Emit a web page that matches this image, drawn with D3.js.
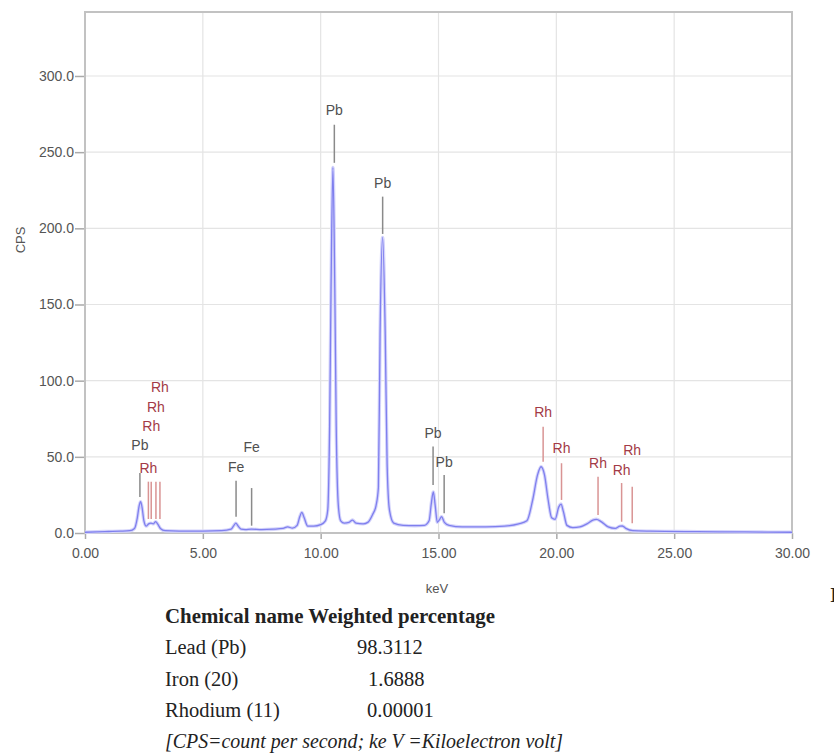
<!DOCTYPE html>
<html>
<head>
<meta charset="utf-8">
<script src="https://cdn.jsdelivr.net/npm/d3@7"></script>
<style>
  body { margin: 0; background: #fff; }
  svg { display: block; }
  .tick text { font-family: "Liberation Sans", Arial, sans-serif; font-size: 14px; fill: #555; }
  .serif { font-family: "Liberation Serif", "DejaVu Serif", serif; fill: #222; }
</style>
</head>
<body>
<svg width="834" height="753"></svg>
<script>
// spectrum: [keV, CPS]
var spectrum = [
  [0.0, 0.5], [0.5, 0.8], [1.0, 1.0], [1.5, 1.2], [1.9, 1.5], [2.1, 3],
  [2.22, 10], [2.3, 18], [2.36, 20.5], [2.42, 17], [2.5, 8], [2.6, 4.5],
  [2.7, 6], [2.8, 6.5], [2.9, 6], [3.0, 7.5], [3.08, 6], [3.2, 3], [3.4, 1.5],
  [4.0, 1.2], [5.0, 1.2], [5.8, 1.5], [6.2, 2.5], [6.32, 5], [6.4, 6.5],
  [6.5, 4.5], [6.62, 2.5], [6.8, 2.2], [7.06, 2.5], [7.5, 2.2], [8.0, 2.5],
  [8.4, 3], [8.6, 4], [8.8, 3.2], [9.0, 5], [9.12, 11], [9.2, 13.5], [9.3, 10],
  [9.45, 4.5], [9.7, 4.5], [10.0, 5.5], [10.2, 8], [10.3, 15], [10.38, 70],
  [10.44, 160], [10.52, 240], [10.6, 160], [10.66, 70], [10.75, 18], [10.85, 8],
  [11.0, 6.5], [11.2, 7], [11.35, 8.5], [11.5, 6.5], [11.8, 6], [12.0, 7],
  [12.2, 12], [12.35, 18], [12.45, 30], [12.52, 130], [12.63, 194], [12.74, 130],
  [12.82, 45], [12.92, 15], [13.1, 6.5], [13.5, 5], [14.0, 4.8], [14.4, 5],
  [14.6, 8], [14.7, 20], [14.78, 27], [14.86, 18], [14.95, 7], [15.05, 9],
  [15.13, 10.7], [15.25, 7], [15.45, 5], [16.0, 4], [17.0, 4], [17.8, 4.5],
  [18.4, 6], [18.75, 8], [19.0, 22], [19.2, 38], [19.35, 43.5], [19.5, 38],
  [19.65, 22], [19.8, 10], [19.95, 9], [20.1, 17], [20.2, 19], [20.3, 14],
  [20.45, 5], [20.7, 3.5], [21.0, 4], [21.3, 6], [21.55, 8.5], [21.7, 9],
  [21.9, 7.5], [22.2, 4], [22.5, 3], [22.7, 4.5], [22.8, 4.6], [22.95, 3],
  [23.25, 1.5], [24.0, 1.2], [26.0, 0.9], [28.0, 0.7], [30.0, 0.5]
];

// element markers: [element, keV, line top CPS, line bottom CPS, label CPS]
var markers = [
  ['Pb', 2.33, 39.4, 23.6, 57.8],
  ['Rh', 2.69, 33.7, 9.2, 42.7],
  ['Rh', 2.81, 33.7, 9.2, 70.5],
  ['Rh', 3.01, 33.7, 9.2, 82.9],
  ['Rh', 3.18, 33.7, 9.2, 96.0],
  ['Fe', 6.41, 34.3, 10.7, 43.5],
  ['Fe', 7.07, 29.5, 4.8, 56.3],
  ['Pb', 10.58, 268, 243, 277.7],
  ['Pb', 12.63, 220.8, 196.3, 230],
  ['Pb', 14.77, 56.7, 31.5, 65.5],
  ['Pb', 15.24, 38, 12.9, 46.8],
  ['Rh', 19.44, 69.8, 46.8, 79.6],
  ['Rh', 20.22, 45.8, 21.7, 55.8],
  ['Rh', 21.77, 37, 11.8, 46.2],
  ['Rh', 22.77, 32.8, 7.4, 41.4],
  ['Rh', 23.22, 30.4, 6.4, 54.5]
];

var xTicks = [0, 5, 10, 15, 20, 25, 30];
var yTicks = [0, 50, 100, 150, 200, 250, 300];

var tableHeader = 'Chemical name Weighted percentage';
var tableNames = ['Lead (Pb)', 'Iron (20)', 'Rhodium (11)'];
var tableValues = ['98.3112', '1.6888', '0.00001'];
var footnote = '[CPS=count per second; ke V =Kiloelectron volt]';

var svg = d3.select('svg');
var plotL = 85, plotR = 792, plotT = 12, plotB = 533;

var x = d3.scaleLinear().domain([0, 30]).range([plotL, plotR]);
var y = d3.scaleLinear().domain([0, 342]).range([plotB, plotT]);

// grid
svg.append('g')
  .selectAll('line.vg')
  .data(xTicks.slice(1, -1))
  .enter().append('line')
    .attr('x1', function(d) { return x(d); })
    .attr('x2', function(d) { return x(d); })
    .attr('y1', plotT).attr('y2', plotB)
    .attr('stroke', '#e4e4e4').attr('stroke-width', 1.2);

svg.append('g')
  .selectAll('line.hg')
  .data(yTicks.slice(1))
  .enter().append('line')
    .attr('x1', plotL).attr('x2', plotR)
    .attr('y1', function(d) { return y(d); })
    .attr('y2', function(d) { return y(d); })
    .attr('stroke', '#e4e4e4').attr('stroke-width', 1.2);

// axes
var xAxis = svg.append('g')
  .attr('transform', 'translate(0,' + plotB + ')')
  .call(d3.axisBottom(x).tickValues(xTicks).tickFormat(d3.format('.2f')).tickSize(6).tickPadding(9));
var yAxis = svg.append('g')
  .attr('transform', 'translate(' + plotL + ',0)')
  .call(d3.axisLeft(y).tickValues(yTicks).tickFormat(d3.format('.1f')).tickSize(10).tickPadding(1));
[xAxis, yAxis].forEach(function(a) {
  a.select('.domain').remove();
  a.selectAll('.tick line').attr('stroke', '#aaa').attr('stroke-width', 1.5);
});

// frame
svg.append('rect')
  .attr('x', plotL).attr('y', plotT)
  .attr('width', plotR - plotL).attr('height', plotB - plotT)
  .attr('fill', 'none').attr('stroke', '#c2c2c2').attr('stroke-width', 2);

// spectrum
var line = d3.line()
  .x(function(d) { return x(d[0]); })
  .y(function(d) { return y(d[1]); })
  .curve(d3.curveMonotoneX);

svg.append('path')
  .datum(spectrum)
  .attr('d', line)
  .attr('fill', 'none')
  .attr('stroke', '#d4d4fb')
  .attr('stroke-width', 3.4);
svg.append('path')
  .datum(spectrum)
  .attr('d', line)
  .attr('fill', 'none')
  .attr('stroke', '#7f7fee')
  .attr('stroke-width', 1.3);

// markers
var lineColor = { Pb: '#8a8a8a', Fe: '#8a8a8a', Rh: '#d99494' };
var textColor = { Pb: '#505050', Fe: '#505050', Rh: '#a33a46' };

var mk = svg.append('g').selectAll('g.marker')
  .data(markers)
  .enter().append('g');
mk.append('line')
  .attr('x1', function(d) { return x(d[1]); })
  .attr('x2', function(d) { return x(d[1]); })
  .attr('y1', function(d) { return y(d[2]); })
  .attr('y2', function(d) { return y(d[3]); })
  .attr('stroke', function(d) { return lineColor[d[0]]; })
  .attr('stroke-width', 1.5);
mk.append('text')
  .attr('x', function(d) { return x(d[1]); })
  .attr('y', function(d) { return y(d[4]); })
  .attr('dy', '0.35em')
  .attr('text-anchor', 'middle')
  .attr('font-family', '"Liberation Sans", Arial, sans-serif')
  .attr('font-size', 14)
  .attr('fill', function(d) { return textColor[d[0]]; })
  .text(function(d) { return d[0]; });

// axis titles
svg.append('text')
  .attr('transform', 'translate(25,240) rotate(-90)')
  .attr('text-anchor', 'middle')
  .attr('font-family', '"Liberation Sans", Arial, sans-serif')
  .attr('font-size', 13).attr('fill', '#555')
  .text('CPS');
svg.append('text')
  .attr('x', 437).attr('y', 593)
  .attr('text-anchor', 'middle')
  .attr('font-family', '"Liberation Sans", Arial, sans-serif')
  .attr('font-size', 13).attr('fill', '#555')
  .text('keV');

// table below the chart
var tx = 165;
svg.append('text').attr('class', 'serif')
  .attr('x', tx).attr('y', 623)
  .attr('font-size', 20).attr('font-weight', 'bold')
  .attr('textLength', 330).attr('lengthAdjust', 'spacingAndGlyphs')
  .text(tableHeader);

var valueX = [357, 368, 367];
tableNames.forEach(function(name, i) {
  svg.append('text').attr('class', 'serif')
    .attr('x', tx).attr('y', 654 + i * 31.7)
    .attr('font-size', 20.5)
    .text(name);
  svg.append('text').attr('class', 'serif')
    .attr('x', valueX[i]).attr('y', 654 + i * 31.7)
    .attr('font-size', 20.5)
    .text(tableValues[i]);
});
svg.append('text').attr('class', 'serif')
  .attr('x', tx).attr('y', 748)
  .attr('font-size', 20).attr('font-style', 'italic')
  .attr('textLength', 398).attr('lengthAdjust', 'spacingAndGlyphs')
  .text(footnote);

// cut-off letter at the right edge
svg.append('text').attr('class', 'serif')
  .attr('x', 830).attr('y', 602)
  .attr('font-size', 22).attr('font-weight', 'bold').attr('fill', '#111')
  .text('I');
</script>
</body>
</html>
